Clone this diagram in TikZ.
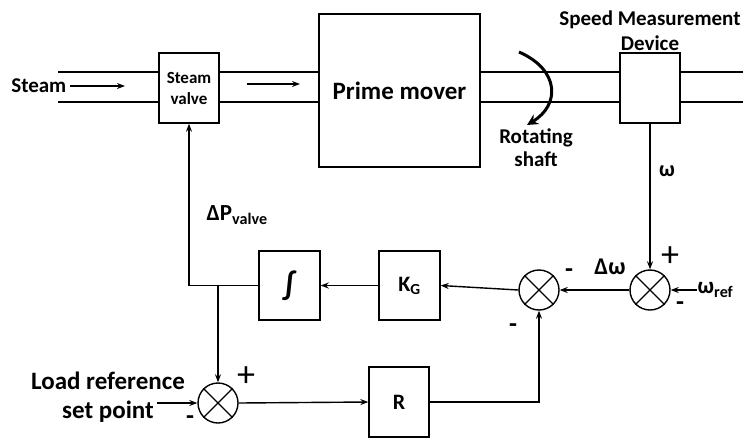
\documentclass[tikz,border=0pt]{standalone}
\usepackage{fontspec}
\setmainfont{Carlito}
\usetikzlibrary{arrows.meta}
\begin{document}
\begin{tikzpicture}[x=1pt,y=-1pt,line width=1.4pt,
  lbl/.style={font=\bfseries\fontsize{22}{26}\selectfont, inner sep=0pt},
  blk/.style={draw, rectangle, inner sep=0pt, font=\bfseries\fontsize{22}{24}\selectfont},
  sumj/.style={draw, circle, minimum size=40pt, inner sep=0pt},
  arr/.style={-{Stealth[length=8pt,width=6pt]}},
  sgn/.style={font=\bfseries\fontsize{26}{28}\selectfont, inner sep=0pt},
  plus/.style={font=\fontsize{36}{36}\selectfont, inner sep=0pt}]
\useasboundingbox (0,0) rectangle (743,437);
% blocks
\node[blk, minimum width=60pt, minimum height=70pt, align=center, font=\bfseries\fontsize{17}{21}\selectfont] (valve) at (189,88) {Steam\\valve};
\node[blk, minimum width=161pt, minimum height=153pt, font=\bfseries\fontsize{25}{27}\selectfont] (prime) at (399.5,90.5) {Prime mover};
\node[blk, minimum width=60pt, minimum height=70pt] (speed) at (650,88) {};
\node[blk, minimum width=61pt, minimum height=69pt] (kg) at (409.5,285.5) {K\textsubscript{G}};
\node[blk, minimum width=61pt, minimum height=69pt] (integ) at (289.5,285.5) {\fontsize{32}{32}\selectfont ∫};
\node[blk, minimum width=60pt, minimum height=70pt] (r) at (399,402) {R};
% summing junctions
\foreach \n/\x/\y in {s1/650/290, s2/539/290, s3/218/403}{
  \node[sumj] (\n) at (\x,\y) {};
  \draw[line width=1.2pt] (\n.north east) -- (\n.south west) (\n.north west) -- (\n.south east);
}
% pipes
\coordinate (pt) at (0,72); \coordinate (pb) at (0,102);
\coordinate (pipeLt) at (58,72); \coordinate (pipeLb) at (58,102);
\coordinate (pipeRt) at (743,72); \coordinate (pipeRb) at (743,102);
\draw (pipeLt) -- (valve.west |- pt) (pipeLb) -- (valve.west |- pb);
\draw (valve.east |- pt) -- (prime.west |- pt) (valve.east |- pb) -- (prime.west |- pb);
\draw (prime.east |- pt) -- (speed.west |- pt) (prime.east |- pb) -- (speed.west |- pb);
\draw (speed.east |- pt) -- (pipeRt) (speed.east |- pb) -- (pipeRb);
% steam arrows
\node[lbl, anchor=east, font=\bfseries\fontsize{21}{24}\selectfont] (steam) at (67,86) {Steam};
\coordinate (steamend) at (125,86);
\draw[arr] ([xshift=3pt]steam.east) -- (steamend);
\coordinate (flowA) at (247,84); \coordinate (flowB) at (300,84);
\draw[arr] (flowA) -- (flowB);
% rotating shaft arrow
\coordinate (rotA) at (519,52); \coordinate (rotB) at (527,125);
\draw[line width=3pt, -{Stealth[length=11pt,width=11pt]}] (rotA) .. controls (560,70) and (560,105) .. (rotB);
\node[lbl, align=center, font=\bfseries\fontsize{21}{23}\selectfont] (rotlbl) at (536,148) {Rotating\\shaft};
\node[lbl, align=center, font=\bfseries\fontsize{21}{25}\selectfont] (speedlbl) at (650,31) {Speed Measurement\\Device};
% feedback path
\draw[arr] (speed.south) -- (s1.north);
\node[lbl] (omega) at (667,171) {ω};
\node[lbl, anchor=west, font=\bfseries\fontsize{23}{26}\selectfont] (wref) at (697,290) {ω\textsubscript{ref}};
\draw[arr] (wref.west) -- (s1.east);
\node[plus] (p1) at (670,257) {+};
\node[sgn] (m1) at (680,306) {-};
\node[lbl, font=\bfseries\fontsize{24}{26}\selectfont] (dw) at (610,267) {Δω};
\draw[arr] (s1.west) -- (s2.east);
\node[sgn] (m2) at (569,273) {-};
\node[sgn] (m3) at (513,328) {-};
\draw[arr] (s2.west) -- (kg.east);
\draw[arr] (kg.west) -- (integ.east);
\draw[arr] (integ.west) -| (valve.south);
\node[lbl, anchor=west, font=\bfseries\fontsize{23}{26}\selectfont] (dp) at (206,215) {ΔP\textsubscript{valve}};
\draw[arr] (s3.north |- integ.west) -- (s3.north);
\node[lbl, align=center, font=\bfseries\fontsize{25}{29}\selectfont] (load) at (108,397) {Load reference\\set point};
\coordinate (loadin) at (157,403);
\draw[arr] (loadin) -- (s3.west);
\node[plus] (p3) at (246,377) {+};
\node[sgn] (m4) at (190,420) {-};
\draw[arr] (s3.east) -- (r.west);
\draw[arr] (r.east) -| (s2.south);
\end{tikzpicture}
\end{document}
